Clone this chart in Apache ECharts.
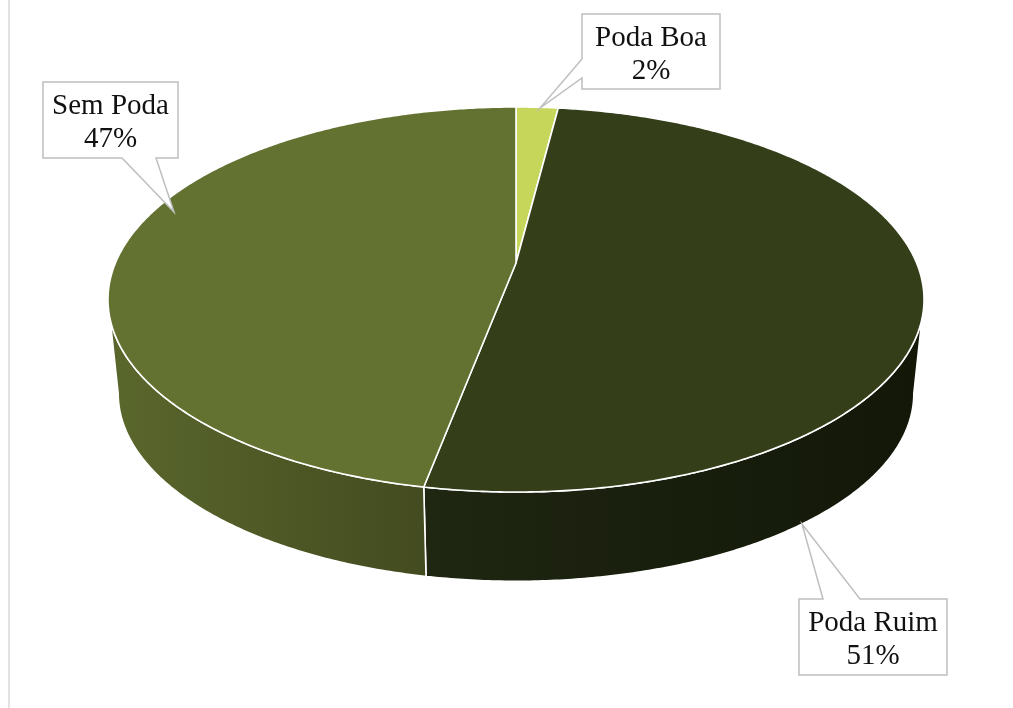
<!DOCTYPE html>
<html>
<head>
<meta charset="utf-8">
<title>Poda</title>
<script src="https://cdn.jsdelivr.net/npm/echarts@6/dist/echarts.min.js"></script>
<style>
  html, body { margin: 0; padding: 0; background: #ffffff; }
  #chart { width: 1013px; height: 708px; }
</style>
</head>
<body>
<div id="chart"></div>
<script>
// Slice categories and their shares (%)
const categories = ['Poda Boa', 'Poda Ruim', 'Sem Poda'];
const shares = [2, 51, 47];

// Palette: top faces and side walls (left → right gradient)
const topColors = ['#c5d65b', '#343f1a', '#637230'];
const sideColors = [['#a9b84c', '#8e9c3c'], ['#1f2611', '#121708'], ['#5a672c', '#434b20']];

// Tilted-disc projection (perspective homography) of the pie
const G = { cx: 516, cy: 263, A: 400.6, B: 185.6, p: 0.1896, cyb: 358, sb: 0.975 };
function proj(deg, bottom) {
  const t = deg * Math.PI / 180;
  const u = Math.sin(t), v = -Math.cos(t);
  const w = 1 - G.p * v;
  const s = bottom ? G.sb : 1;
  return [G.cx + s * G.A * u / w, (bottom ? G.cyb : G.cy) + s * G.B * v / w];
}
function arc(a0, a1, bottom) {
  const pts = [];
  const n = Math.max(2, Math.ceil(Math.abs(a1 - a0) / 0.5));
  for (let i = 0; i <= n; i++) pts.push(proj(a0 + (a1 - a0) * i / n, bottom));
  return pts;
}
// silhouette angles: where the rim turns away from the viewer
const silR = Math.acos(-G.p) * 180 / Math.PI;
const silL = 360 - silR;

// Callout boxes (outline with pointer) and text anchors
const callouts = {
  'Poda Boa': { pts: [[582, 14], [720, 14], [720, 89], [582, 89], [582, 78], [540, 108], [582, 59]], tx: 651, ty: 55 },
  'Poda Ruim': { pts: [[799, 599], [823, 599], [802, 524], [860, 599], [947, 599], [947, 675], [799, 675]], tx: 873, ty: 640 },
  'Sem Poda': { pts: [[43, 82], [178, 82], [178, 158], [156, 158], [174, 212], [122, 158], [43, 158]], tx: 110.5, ty: 123 }
};

const total = shares.reduce((a, b) => a + b, 0);
const starts = [];
shares.reduce((acc, v) => { starts.push(acc); return acc + v; }, 0);

const chart = echarts.init(document.getElementById('chart'), null, { renderer: 'canvas' });

chart.setOption({
  backgroundColor: '#ffffff',
  animation: false,
  graphic: [{
    type: 'line', shape: { x1: 9, y1: 0, x2: 9, y2: 708 },
    style: { stroke: '#d9d9d9', lineWidth: 1.5 }, silent: true
  }],
  series: [{
    type: 'custom',
    coordinateSystem: 'none',
    data: shares.map((v, i) => ({ name: categories[i], value: v })),
    renderItem: function (params, api) {
      const i = params.dataIndex;
      const val = api.value(0);
      const a0 = starts[i] / total * 360;
      const a1 = a0 + val / total * 360;
      const children = [];

      // visible outer wall (front part of the disc)
      const w0 = Math.max(a0, silR), w1 = Math.min(a1, silL);
      if (w1 > w0) {
        const wallPts = arc(w0, w1, false).concat(arc(w0, w1, true).reverse());
        children.push({
          type: 'polygon', z2: 1,
          shape: { points: wallPts },
          style: {
            fill: { type: 'linear', x: 0, y: 0, x2: 1, y2: 0,
              colorStops: [{ offset: 0, color: sideColors[i][0] }, { offset: 1, color: sideColors[i][1] }] },
            stroke: '#ffffff', lineWidth: 1.6, lineJoin: 'round'
          }
        });
      }

      // top face sector
      const topPts = [[G.cx, G.cy]].concat(arc(a0, a1, false));
      children.push({
        type: 'polygon', z2: 10,
        shape: { points: topPts },
        style: { fill: topColors[i], stroke: '#ffffff', lineWidth: 1.6, lineJoin: 'round' }
      });

      // callout label
      const name = categories[i];
      const c = callouts[name];
      children.push({
        type: 'polygon', z2: 20,
        shape: { points: c.pts },
        style: { fill: '#ffffff', stroke: '#bfbfbf', lineWidth: 1.5 }
      });
      children.push({
        type: 'text', z2: 21, x: c.tx, y: c.ty,
        style: {
          text: name + '\n' + Math.round(val / total * 100) + '%',
          fontFamily: '"Liberation Serif", "Times New Roman", serif',
          fontSize: 29, lineHeight: 33,
          fill: '#111111', align: 'center', verticalAlign: 'middle'
        }
      });

      return { type: 'group', children: children };
    }
  }]
});
</script>
</body>
</html>
